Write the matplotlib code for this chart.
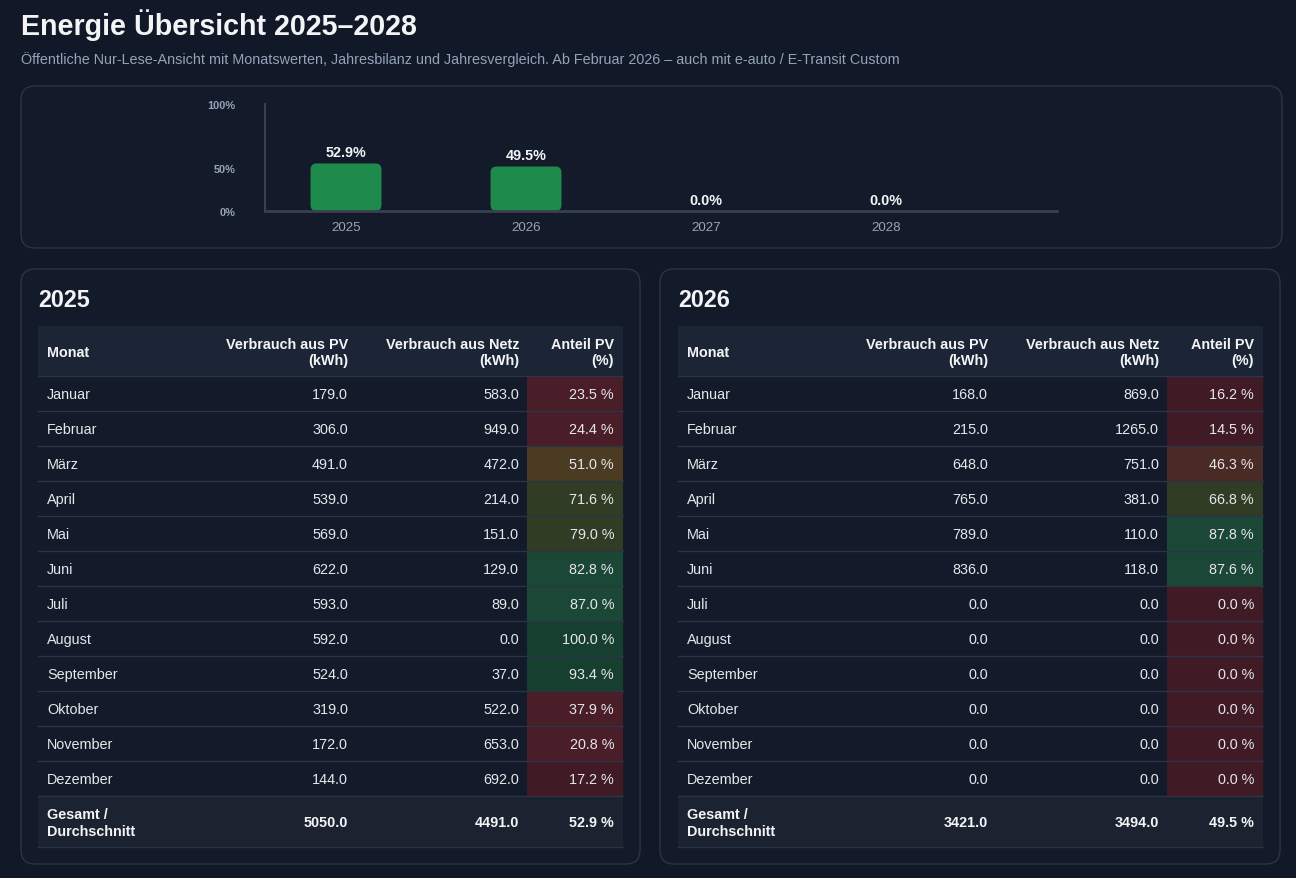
import matplotlib
matplotlib.use("Agg")
import matplotlib.pyplot as plt
from matplotlib.patches import FancyBboxPatch, Rectangle

# ---------------- data ----------------
years = ["2025", "2026", "2027", "2028"]
year_share = [52.9, 49.5, 0.0, 0.0]

months = ["Januar", "Februar", "März", "April", "Mai", "Juni", "Juli",
          "August", "September", "Oktober", "November", "Dezember"]

pv_2025 = [179.0, 306.0, 491.0, 539.0, 569.0, 622.0, 593.0, 592.0, 524.0, 319.0, 172.0, 144.0]
netz_2025 = [583.0, 949.0, 472.0, 214.0, 151.0, 129.0, 89.0, 0.0, 37.0, 522.0, 653.0, 692.0]
share_2025 = [23.5, 24.4, 51.0, 71.6, 79.0, 82.8, 87.0, 100.0, 93.4, 37.9, 20.8, 17.2]
total_share_2025 = 52.9

pv_2026 = [168.0, 215.0, 648.0, 765.0, 789.0, 836.0, 0.0, 0.0, 0.0, 0.0, 0.0, 0.0]
netz_2026 = [869.0, 1265.0, 751.0, 381.0, 110.0, 118.0, 0.0, 0.0, 0.0, 0.0, 0.0, 0.0]
share_2026 = [16.2, 14.5, 46.3, 66.8, 87.8, 87.6, 0.0, 0.0, 0.0, 0.0, 0.0, 0.0]
total_share_2026 = 49.5

header_labels = ["Monat", "Verbrauch aus PV\n(kWh)", "Verbrauch aus Netz\n(kWh)", "Anteil PV\n(%)"]
total_label = "Gesamt /\nDurchschnitt"

title = "Energie Übersicht 2025–2028"
subtitle = ("Öffentliche Nur-Lese-Ansicht mit Monatswerten, Jahresbilanz und Jahresvergleich. "
            "Ab Februar 2026 – auch mit e-auto / E-Transit Custom")

# ---------------- style ----------------
plt.rcParams["font.family"] = ["Liberation Sans", "DejaVu Sans"]
W, H = 1296, 879
BG = "#111827"
CARD = "#131a2a"
BORDER = "#2b3546"
LINE = "#2a3444"
HEAD_BG = "#1b2536"
TOTAL_BG = "#1b2230"
TXT = "#e5e7eb"
TXT_B = "#f3f4f6"
MUTED = "#94a3b8"
BAR = "#1e8a4c"

FS_BODY = 10.4
FS_HEAD = 10.4


def share_color(p):
    if p < 20:
        return "#401a24"
    if p < 40:
        return "#4a1e28"
    if p < 50:
        return "#4a2a24"
    if p < 60:
        return "#4a3b22"
    if p < 80:
        return "#303c24"
    if p < 90:
        return "#1a4736"
    return "#173f2f"


fig = plt.figure(figsize=(W / 100, H / 100), dpi=100, facecolor=BG)
bg = fig.add_axes([0, 0, 1, 1])
bg.set_xlim(0, W)
bg.set_ylim(H, 0)
bg.axis("off")
bg.set_facecolor(BG)


def card(x0, y0, x1, y1):
    bg.add_patch(FancyBboxPatch((x0, y0), x1 - x0, y1 - y0,
                                boxstyle="round,pad=0,rounding_size=14",
                                facecolor=CARD, edgecolor=BORDER, lw=1.0, zorder=1))


# titles
bg.text(21, 25, title, fontsize=20.6, fontweight="bold", color=TXT_B, va="center", ha="left")
bg.text(21, 60, subtitle, fontsize=10.35, color=MUTED, va="center", ha="left")

# cards
card(21, 87, 1282, 249)
card(21, 270, 640, 865)
card(660, 270, 1280, 865)

# ---------------- bar chart ----------------
ax = fig.add_axes([265 / W, 1 - 212 / H, (1057 - 265) / W, (212 - 105) / H])
ax.set_facecolor("none")
xpos = list(range(len(years)))
ax.set_xlim(-0.45, 3.95)
ax.set_ylim(0, 119)
bars = ax.bar(xpos, year_share, width=0.394, color=BAR)
px_x = 4.4 / 792
px_y = 119 / 107
for b, v in zip(bars, year_share):
    b.set_visible(False)
    if v > 0:
        ax.add_patch(FancyBboxPatch((b.get_x(), 0), b.get_width(), b.get_height(),
                                    boxstyle="round,pad=0,rounding_size=%f" % (6 * px_x),
                                    mutation_aspect=px_y / px_x,
                                    facecolor=BAR, edgecolor="none", zorder=2))
    ax.annotate(f"{v:.1f}%", (b.get_x() + b.get_width() / 2, v), xytext=(0, 3),
                textcoords="offset points", ha="center", va="bottom",
                fontsize=10.4, fontweight="bold", color=TXT_B)
for s in ["top", "right"]:
    ax.spines[s].set_visible(False)
ax.spines["left"].set_color("#374151")
ax.spines["left"].set_linewidth(1.5)
ax.spines["bottom"].set_color("#374151")
ax.spines["bottom"].set_linewidth(2)
ax.set_xticks(xpos)
ax.set_xticklabels(years)
ax.set_yticks([0, 48, 119])
ax.set_yticklabels(["0%", "50%", "100%"])
ax.tick_params(axis="x", length=0, pad=7, labelsize=9.6, labelcolor="#9ca3af")
ax.tick_params(axis="y", length=0, pad=21, labelsize=7.9, labelcolor=MUTED)
for t in ax.get_yticklabels():
    t.set_fontweight("bold")

# ---------------- tables ----------------
HEAD_H, ROW_H, TOT_H = 50, 35, 51


def table(x0, x1, y0, year, pv, netz, share, total_share):
    bg.text(x0, y0 - 26, year, fontsize=16.8, fontweight="bold", color=TXT_B,
            va="center", ha="left", zorder=5)
    col_pv = x0 + 310
    col_netz = x0 + 481
    col_share0 = x0 + 489
    col_share = x1 - 9
    # header
    bg.add_patch(Rectangle((x0, y0), x1 - x0, HEAD_H, facecolor=HEAD_BG, edgecolor="none", zorder=2))
    yc = y0 + HEAD_H / 2 + 1
    bg.text(x0 + 9, yc, header_labels[0], fontsize=FS_HEAD, fontweight="bold", color=TXT_B,
            ha="left", va="center", zorder=5)
    for lab, xr in zip(header_labels[1:], [col_pv, col_netz, col_share]):
        bg.text(xr, yc, lab, fontsize=FS_HEAD, fontweight="bold", color=TXT_B, ha="right",
                va="center", ma="right", linespacing=1.15, zorder=5)
    bg.plot([x0, x1], [y0 + HEAD_H, y0 + HEAD_H], color=LINE, lw=1, zorder=4)
    # rows
    for i, m in enumerate(months):
        ry = y0 + HEAD_H + i * ROW_H
        bg.add_patch(Rectangle((col_share0, ry), x1 - col_share0, ROW_H,
                               facecolor=share_color(share[i]), edgecolor="none", zorder=2))
        c = ry + ROW_H / 2 + 1
        bg.text(x0 + 9, c, m, fontsize=FS_BODY, color=TXT, ha="left", va="center", zorder=5)
        bg.text(col_pv, c, f"{pv[i]:.1f}", fontsize=FS_BODY, color=TXT, ha="right", va="center", zorder=5)
        bg.text(col_netz, c, f"{netz[i]:.1f}", fontsize=FS_BODY, color=TXT, ha="right", va="center", zorder=5)
        bg.text(col_share, c, f"{share[i]:.1f} %", fontsize=FS_BODY, color=TXT, ha="right", va="center", zorder=5)
        bg.plot([x0, x1], [ry + ROW_H, ry + ROW_H], color=LINE, lw=1, zorder=4)
    # total
    ty = y0 + HEAD_H + len(months) * ROW_H
    bg.add_patch(Rectangle((x0, ty), x1 - x0, TOT_H, facecolor=TOTAL_BG, edgecolor="none", zorder=2))
    c = ty + TOT_H / 2 + 1
    bg.text(x0 + 9, c, total_label, fontsize=FS_HEAD, fontweight="bold", color=TXT_B,
            ha="left", va="center", linespacing=1.2, zorder=5)
    bg.text(col_pv, c, f"{sum(pv):.1f}", fontsize=FS_HEAD, fontweight="bold", color=TXT_B,
            ha="right", va="center", zorder=5)
    bg.text(col_netz, c, f"{sum(netz):.1f}", fontsize=FS_HEAD, fontweight="bold", color=TXT_B,
            ha="right", va="center", zorder=5)
    bg.text(col_share, c, f"{total_share:.1f} %", fontsize=FS_HEAD, fontweight="bold", color=TXT_B,
            ha="right", va="center", zorder=5)
    bg.plot([x0, x1], [ty + TOT_H, ty + TOT_H], color=LINE, lw=1, zorder=4)


table(38, 623, 327, "2025", pv_2025, netz_2025, share_2025, total_share_2025)
table(678, 1263, 327, "2026", pv_2026, netz_2026, share_2026, total_share_2026)

fig.savefig("out.png", dpi=100, facecolor=BG)
